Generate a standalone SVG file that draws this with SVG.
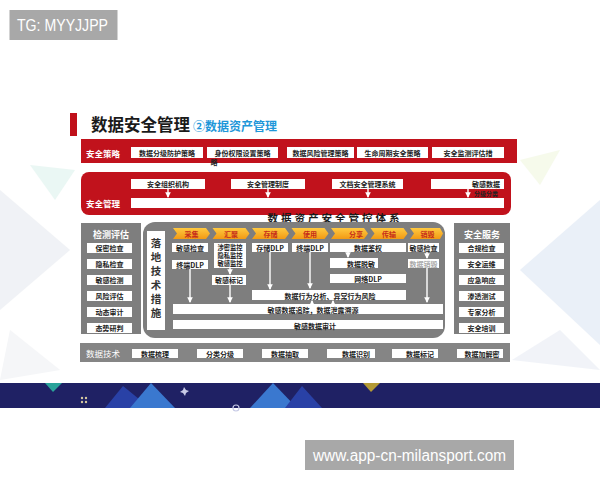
<svg xmlns="http://www.w3.org/2000/svg" width="600" height="480" viewBox="0 0 600 480">
<style>
text{font-family:"Noto Sans CJK SC","Liberation Sans",sans-serif;font-weight:700}
.t{font-size:7px;fill:#222;text-anchor:middle;dominant-baseline:central}
.s{font-size:6.3px}
.lab{font-size:8.5px;fill:#fff;dominant-baseline:central}
.hd{font-size:9px;fill:#fff;text-anchor:middle;dominant-baseline:central}
.ch{font-size:7px;fill:#c62d1a;text-anchor:middle;dominant-baseline:central}
.red{fill:#c1121c}
.gray{fill:#7e7e7e}
.chev{fill:url(#og)}
.ar{stroke:#fff;stroke-width:1.4;fill:none;marker-end:url(#ah)}
.wm{font-family:"Liberation Sans",sans-serif;font-weight:400;fill:#fff}
</style>
<defs>
<marker id="ah" viewBox="0 0 6 6" refX="5" refY="3" markerWidth="4" markerHeight="4" orient="auto"><path d="M0,0 L6,3 L0,6 z" fill="#fff"/></marker>
<linearGradient id="og" x1="0" y1="0" x2="0" y2="1"><stop offset="0" stop-color="#ffc940"/><stop offset="1" stop-color="#f29a14"/></linearGradient>
</defs>
<rect width="600" height="480" fill="#fff"/>
<!-- slide background decorations -->
<g opacity="0.5">
<polygon points="0,190 70,250 0,310" fill="#e3e6ee"/>
<polygon points="10,330 60,370 0,380" fill="#eceef2"/>
<polygon points="30,165 75,170 55,200" fill="#d7f1ea"/>
<polygon points="600,200 520,270 600,345" fill="#d6e2f3"/>
<polygon points="520,160 560,150 540,185" fill="#eef6d8"/>
<polygon points="512,360 560,330 600,370" fill="#e4e9f3"/>
</g>
<!-- bottom blue band -->
<g id="band">
<rect x="0" y="383" width="600" height="25" fill="#1f2164"/>
<polygon points="105,408 123,386 150,408" fill="#2941a6"/>
<polygon points="130,408 151,383 175,408" fill="#3a78cf"/>
<polygon points="250,408 273,383 297,408" fill="#3a78cf"/>
<polygon points="285,408 302,386 322,408" fill="#2941a6"/>
<polygon points="45,383 62,383 53,392" fill="#2aa39a"/>
<polygon points="363,383 380,383 371,392" fill="#b39a35"/>
<polygon points="184,387 186,390 189,391 186,393 185,396 183,393 180,392 183,390" fill="#c8cbe6"/>
<g fill="#d8c9a0"><circle cx="82" cy="398" r="1.2"/><circle cx="86" cy="398" r="1.2"/><circle cx="82" cy="402" r="1.2"/><circle cx="86" cy="402" r="1.2"/></g>
<circle cx="236" cy="408" r="3" fill="none" stroke="#c8cbe6" stroke-width="1.2"/>
</g>
<!-- title -->
<g id="title">
<rect x="70" y="113" width="7" height="23" fill="#c0101a"/>
<text x="91" y="131" font-size="16.5" fill="#1a1a1a">数据安全管理</text>
<text x="193" y="131" font-size="12" fill="#1e97d9">②数据资产管理</text>
</g>
<!-- strategy band -->
<g id="strategy">
<rect x="81" y="139" width="436" height="24" class="red"/>
<text x="86" y="152.5" class="lab">安全策略</text>
<rect x="131" y="147" width="72" height="11" fill="#fff"/><text x="167" y="152.5" class="t">数据分级防护策略</text>
<rect x="207" y="147" width="71" height="11" fill="#fff"/><text x="242.5" y="152.5" class="t">身份权限设置策略</text>
<text x="214" y="162" class="t">略</text>
<rect x="287" y="147" width="67" height="11" fill="#fff"/><text x="320.5" y="152.5" class="t">数据风险管理策略</text>
<rect x="357" y="147" width="71" height="11" fill="#fff"/><text x="392.5" y="152.5" class="t">生命周期安全策略</text>
<rect x="432" y="147" width="72" height="11" fill="#fff"/><text x="468" y="152.5" class="t">安全监测评估措</text>
</g>
<!-- management block -->
<g id="management">
<rect x="81" y="172" width="430" height="43" rx="8" class="red"/>
<text x="86" y="203" class="lab">安全管理</text>
<rect x="131" y="179" width="74" height="10" fill="#fff"/><text x="168" y="184" class="t">安全组织机构</text>
<rect x="231" y="179" width="74" height="10" fill="#fff"/><text x="268" y="184" class="t">安全管理制度</text>
<rect x="332" y="179" width="71" height="10" fill="#fff"/><text x="367.5" y="184" class="t">文档安全管理系统</text>
<rect x="431" y="179" width="73" height="10" fill="#fff"/><text x="486" y="184" class="t">敏感数据</text>
<text x="486" y="193" class="t" style="font-size:6px">分级分类</text>
<rect x="131" y="198" width="373" height="10" fill="#fff"/>
<text x="335" y="217" font-size="10.5" fill="#1a1a1a" text-anchor="middle" letter-spacing="3" dominant-baseline="central">数据资产安全管控体系</text>
</g>
<!-- left panel -->
<g id="detect">
<rect x="81" y="223" width="60" height="111" class="gray"/>
<text x="111" y="234" class="hd">检测评估</text>
<rect x="87" y="243" width="45" height="10" fill="#fff"/><text x="109.5" y="248" class="t">保密检查</text>
<rect x="87" y="259" width="45" height="10" fill="#fff"/><text x="109.5" y="264" class="t">隐私检查</text>
<rect x="87" y="275" width="45" height="10" fill="#fff"/><text x="109.5" y="280" class="t">敏感检测</text>
<rect x="87" y="291" width="45" height="10" fill="#fff"/><text x="109.5" y="296" class="t">风险评估</text>
<rect x="87" y="307" width="45" height="10" fill="#fff"/><text x="109.5" y="312" class="t">动态审计</text>
<rect x="87" y="323" width="45" height="10" fill="#fff"/><text x="109.5" y="328" class="t">态势研判</text>
</g>
<!-- right panel -->
<g id="service">
<rect x="454" y="223" width="56" height="111" class="gray"/>
<text x="482" y="234" class="hd">安全服务</text>
<rect x="459" y="243" width="45" height="10" fill="#fff"/><text x="481.5" y="248" class="t">合规检查</text>
<rect x="459" y="259" width="45" height="10" fill="#fff"/><text x="481.5" y="264" class="t">安全运维</text>
<rect x="459" y="275" width="45" height="10" fill="#fff"/><text x="481.5" y="280" class="t">应急响应</text>
<rect x="459" y="291" width="45" height="10" fill="#fff"/><text x="481.5" y="296" class="t">渗透测试</text>
<rect x="459" y="307" width="45" height="10" fill="#fff"/><text x="481.5" y="312" class="t">专家分析</text>
<rect x="459" y="323" width="45" height="10" fill="#fff"/><text x="481.5" y="328" class="t">安全培训</text>
</g>
<!-- middle panel -->
<g id="measures">
<rect x="143" y="222" width="302" height="116" rx="12" class="gray"/>
<rect x="147" y="231" width="18" height="99" fill="#fff"/>
<g font-size="10.5" fill="#333" text-anchor="middle" style="font-weight:400">
<text x="156" y="247">落</text><text x="156" y="261">地</text><text x="156" y="275">技</text><text x="156" y="289">术</text><text x="156" y="303">措</text><text x="156" y="317">施</text>
</g>
</g>
<g id="stages">
<polygon points="173,228 206,228 210,233.5 206,239 173,239 177,233.5" class="chev"/><text x="191.5" y="233.5" class="ch">采集</text>
<polygon points="212.5,228 245.5,228 249.5,233.5 245.5,239 212.5,239 216.5,233.5" class="chev"/><text x="231" y="233.5" class="ch">汇聚</text>
<polygon points="252,228 285,228 289,233.5 285,239 252,239 256,233.5" class="chev"/><text x="270.5" y="233.5" class="ch">存储</text>
<polygon points="291.5,228 324.5,228 328.5,233.5 324.5,239 291.5,239 295.5,233.5" class="chev"/><text x="310" y="233.5" class="ch">使用</text>
<polygon points="331,228 364,228 368,233.5 364,239 331,239 335,233.5" class="chev"/><text x="356" y="233.5" class="ch">分享</text>
<polygon points="370.5,228 403.5,228 407.5,233.5 403.5,239 370.5,239 374.5,233.5" class="chev"/><text x="389" y="233.5" class="ch">传输</text>
<polygon points="410,228 440,228 443,233.5 440,239 410,239 414,233.5" class="chev"/><text x="427.5" y="233.5" class="ch">销毁</text>
</g>
<g id="items">
<rect x="172" y="243" width="36" height="9" fill="#fff"/><text x="190" y="247.5" class="t">敏感检查</text>
<rect x="172" y="260" width="36" height="9" fill="#fff"/><text x="190" y="264.5" class="t">终端DLP</text>
<rect x="214" y="243" width="32" height="25" fill="#fff"/>
<text x="230" y="247.5" class="t s">涉密监控</text><text x="230" y="255.5" class="t s">隐私监控</text><text x="230" y="263.5" class="t s">敏感监控</text>
<rect x="212" y="275" width="34" height="10" fill="#fff"/><text x="229" y="280" class="t">敏感标记</text>
<rect x="252" y="243" width="36" height="9" fill="#fff"/><text x="270" y="247.5" class="t">存储DLP</text>
<rect x="292" y="243" width="36" height="9" fill="#fff"/><text x="310" y="247.5" class="t">终端DLP</text>
<rect x="330" y="243" width="76" height="9" fill="#fff"/><text x="368" y="247.5" class="t">数据鉴权</text>
<rect x="330" y="258" width="48" height="10" fill="#fff"/><text x="361" y="264" class="t">数据脱敏</text>
<rect x="330" y="274" width="76" height="9" fill="#fff"/><text x="368" y="278.5" class="t">网络DLP</text>
<rect x="408" y="243" width="31" height="9" fill="#fff"/><text x="423.5" y="247.5" class="t">敏感检查</text>
<rect x="408" y="259" width="31" height="9" fill="#fff"/><text x="423.5" y="263.5" class="t" style="fill:#aaa">数据销毁</text>
<rect x="252" y="290" width="154" height="10" fill="#fff"/><text x="330" y="296" class="t">数据行为分析、异常行为风险</text>
<rect x="173" y="304" width="270" height="10" fill="#fff"/><text x="313" y="310" class="t">敏感数据追踪，数据泄露溯源</text>
<rect x="173" y="320" width="270" height="9" fill="#fff"/><text x="315" y="326" class="t">敏感数据审计</text>
</g>
<!-- bottom tech band -->
<g id="tech">
<rect x="80" y="343" width="430" height="19" fill="#858585"/>
<text x="86" y="353" class="lab" style="font-weight:400">数据技术</text>
<rect x="132" y="349" width="46" height="9" fill="#fff"/><text x="155" y="353.5" class="t">数据梳理</text>
<rect x="197" y="349" width="46" height="9" fill="#fff"/><text x="220" y="353.5" class="t">分类分级</text>
<rect x="262" y="349" width="46" height="9" fill="#fff"/><text x="285" y="353.5" class="t">数据抽取</text>
<rect x="327" y="349" width="48" height="9" fill="#fff"/><text x="356" y="353.5" class="t">数据识别</text>
<rect x="392" y="349" width="46" height="9" fill="#fff"/><text x="420" y="353.5" class="t">数据标记</text>
<rect x="457" y="349" width="46" height="9" fill="#fff"/><text x="482" y="353.5" class="t">数据加解密</text>
</g>
<!-- connectors -->
<g id="connectors">
<line x1="168" y1="189" x2="168" y2="197" class="ar"/>
<line x1="268" y1="189" x2="268" y2="197" class="ar"/>
<line x1="368" y1="189" x2="368" y2="197" class="ar"/>
<line x1="468" y1="189" x2="468" y2="197" class="ar"/>
<line x1="190" y1="269" x2="190" y2="302" class="ar"/>
<line x1="230" y1="268" x2="230" y2="274" class="ar"/>
<line x1="230" y1="285" x2="230" y2="302" class="ar"/>
<line x1="270" y1="252" x2="270" y2="289" class="ar"/>
<line x1="310" y1="252" x2="310" y2="288" class="ar"/>
<line x1="348" y1="252" x2="348" y2="257" class="ar"/>
<line x1="427" y1="252" x2="427" y2="258" class="ar"/>
<line x1="427" y1="268" x2="427" y2="302" class="ar"/>
<line x1="312" y1="304" x2="312" y2="301" class="ar"/>
<line x1="333" y1="304" x2="333" y2="301" class="ar"/>
</g>
<!-- watermarks -->
<g id="wm1">
<rect x="9.5" y="10" width="108" height="30" fill="#a8a8a8"/>
<text x="17" y="31" font-size="16" textLength="91" lengthAdjust="spacingAndGlyphs" class="wm">TG: MYYJJPP</text>
</g>
<g id="wm2">
<rect x="305" y="440" width="209" height="30" fill="#a8a8a8"/>
<text x="313" y="461" font-size="16" textLength="193" lengthAdjust="spacingAndGlyphs" class="wm">www.app-cn-milansport.com</text>
</g>
</svg>
